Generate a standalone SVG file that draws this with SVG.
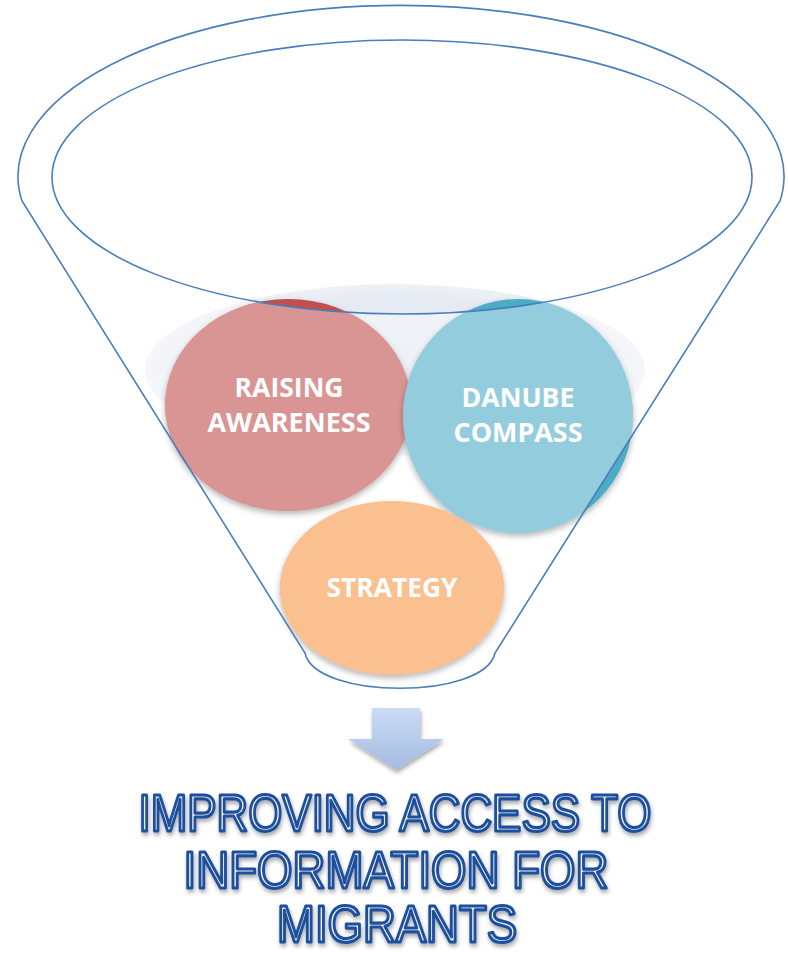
<svg xmlns="http://www.w3.org/2000/svg" width="788" height="953" viewBox="0 0 788 953">
<defs>
<style>
.outline{fill:none;stroke:#4a7ebb;stroke-width:1.6}
.lbl{font-family:"Open Sans","Liberation Sans",sans-serif;font-weight:bold;font-size:27px;fill:#ffffff;text-anchor:middle}
.big{font-family:"Liberation Sans","Open Sans",sans-serif;font-weight:normal;font-size:51px;fill:#f4f1e6;stroke:#1d4f9e;stroke-width:3.2;stroke-linejoin:round;text-anchor:middle}
.veil{fill:#ffffff;fill-opacity:0.4}
</style>
<clipPath id="body" clip-rule="evenodd">
<path clip-rule="evenodd" d="M22,201 A383,171 0 1 1 780,201 L495,653 C485,700 315,700 305,653 Z M52,177 A350,137 0 1 0 752,177 A350,137 0 1 0 52,177 Z"/>
</clipPath>
<radialGradient id="pale" cx="0.5" cy="0.5" r="0.5">
<stop offset="0" stop-color="#e2e7f0"/>
<stop offset="0.85" stop-color="#e6ebf3"/>
<stop offset="1" stop-color="#eef1f6"/>
</radialGradient>
<linearGradient id="arrowG" x1="0" y1="0" x2="0" y2="1">
<stop offset="0" stop-color="#c9dbf6"/>
<stop offset="1" stop-color="#a5bbe0"/>
</linearGradient>
<filter id="sh" x="-20%" y="-20%" width="140%" height="150%">
<feGaussianBlur in="SourceAlpha" stdDeviation="3"/>
<feOffset dx="0" dy="3" result="b"/>
<feComponentTransfer><feFuncA type="linear" slope="0.3"/></feComponentTransfer>
<feMerge><feMergeNode/><feMergeNode in="SourceGraphic"/></feMerge>
</filter>
<filter id="tsh" x="-10%" y="-20%" width="120%" height="150%">
<feGaussianBlur in="SourceAlpha" stdDeviation="2"/>
<feOffset dx="1" dy="3"/>
<feComponentTransfer><feFuncA type="linear" slope="0.35"/></feComponentTransfer>
<feMerge><feMergeNode/><feMergeNode in="SourceGraphic"/></feMerge>
</filter>
</defs>
<rect width="788" height="953" fill="#ffffff"/>
<g id="funnel-base">
<ellipse cx="395" cy="370" rx="250" ry="86" fill="url(#pale)"/>
<path class="veil" clip-path="url(#body)" d="M0,0 H788 V720 H0 Z"/>
</g>
<g id="node-raising-awareness">
<ellipse cx="288" cy="405" rx="123" ry="106" fill="#c0504d" filter="url(#sh)"/>
<ellipse cx="288" cy="405" rx="123" ry="106" class="veil" clip-path="url(#body)"/>
<text class="lbl" x="289" y="397" textLength="109" lengthAdjust="spacingAndGlyphs">RAISING</text>
<text class="lbl" x="289" y="432" textLength="163" lengthAdjust="spacingAndGlyphs">AWARENESS</text>
</g>
<g id="node-danube-compass">
<ellipse cx="518" cy="416" rx="115" ry="117" fill="#4bacc6" filter="url(#sh)"/>
<ellipse cx="518" cy="416" rx="115" ry="117" class="veil" clip-path="url(#body)"/>
<text class="lbl" x="518" y="407" textLength="113" lengthAdjust="spacingAndGlyphs">DANUBE</text>
<text class="lbl" x="518" y="442" textLength="129" lengthAdjust="spacingAndGlyphs">COMPASS</text>
</g>
<g id="node-strategy">
<ellipse cx="392" cy="588" rx="112" ry="87" fill="#f79646" filter="url(#sh)"/>
<ellipse cx="392" cy="588" rx="112" ry="87" class="veil" clip-path="url(#body)"/>
<text class="lbl" x="392" y="597" textLength="131" lengthAdjust="spacingAndGlyphs">STRATEGY</text>
</g>
<g id="funnel-outline">
<path class="outline" d="M22,201 A383,171 0 1 1 780,201 L495,653 C485,700 315,700 305,653 Z"/>
<ellipse class="outline" cx="402" cy="177" rx="350" ry="137"/>
</g>
<g id="connectors">
<path d="M372,708 H420 V739 H444 L396,770 L348,739 H372 Z" fill="url(#arrowG)" filter="url(#tsh)"/>
</g>
<g id="node-result" filter="url(#tsh)">
<text class="big" x="395" y="831" textLength="513" lengthAdjust="spacingAndGlyphs">IMPROVING ACCESS TO</text>
<text class="big" x="396" y="888" textLength="425" lengthAdjust="spacingAndGlyphs">INFORMATION FOR</text>
<text class="big" x="397" y="942" textLength="240" lengthAdjust="spacingAndGlyphs">MIGRANTS</text>
</g>
</svg>
